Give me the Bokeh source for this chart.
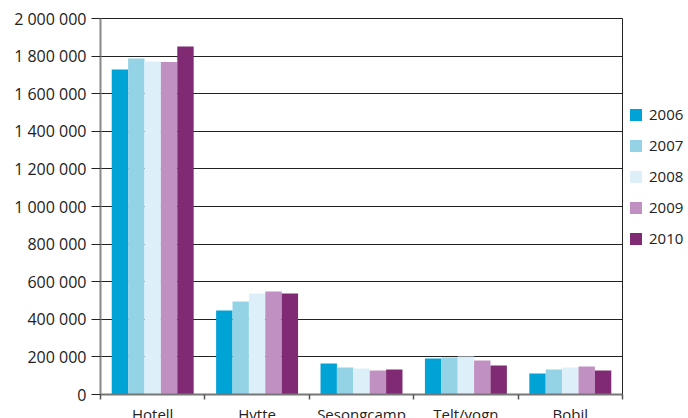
from bokeh.plotting import figure
from bokeh.models import ColumnDataSource, FixedTicker, Legend, LegendItem, CustomJSTickFormatter
from bokeh.embed import file_html
from bokeh.resources import INLINE

categories = ["Hotell", "Hytte", "Sesongcamp", "Telt/vogn", "Bobil"]
years = ["2006", "2007", "2008", "2009", "2010"]
v2006 = [1729000, 447000, 165000, 191000, 112000]
v2007 = [1787000, 495000, 144000, 197000, 133000]
v2008 = [1771000, 537000, 138000, 202000, 144000]
v2009 = [1768000, 548000, 128000, 181000, 149000]
v2010 = [1851000, 537000, 133000, 154000, 128000]
series = [v2006, v2007, v2008, v2009, v2010]
colors = ["#00A3D6", "#93D3E5", "#DDEFF9", "#C190C2", "#7F2A73"]
yticks = [0, 200000, 400000, 600000, 800000, 1000000, 1200000, 1400000, 1600000, 1800000, 2000000]

FONT = "Open Sans"
bar_w = 0.157

p = figure(frame_width=522, frame_height=376, x_range=(0, len(categories)), y_range=(0, 2000000),
           output_backend="svg", toolbar_location=None,
           min_border_left=100, min_border_top=18, min_border_bottom=16, min_border_right=0)

items = []
for j, (yr, vals, c) in enumerate(zip(years, series, colors)):
    off = (j - 2) * bar_w
    xs = [i + 0.5 + off for i in range(len(categories))]
    src = ColumnDataSource(dict(x=xs, top=vals))
    r = p.vbar(x="x", top="top", width=bar_w, bottom=0, source=src, fill_color=c, line_color=None)
    items.append(LegendItem(label=yr, renderers=[r]))

legend = Legend(items=items, location=(6, 146), orientation="vertical",
                glyph_width=15, glyph_height=15, label_height=15, spacing=11,
                label_standoff=6, padding=0, margin=8, border_line_color=None,
                background_fill_alpha=0, label_text_font=FONT, label_text_font_size="15px",
                label_text_color="#222222")
p.add_layout(legend, "right")

# x axis
p.xaxis.ticker = FixedTicker(ticks=[i + 0.5 for i in range(len(categories))],
                             minor_ticks=list(range(len(categories) + 1)))
p.xaxis.major_label_overrides = {i + 0.5: c for i, c in enumerate(categories)}
p.xaxis.major_tick_line_color = None
p.xaxis.minor_tick_out = 5
p.xaxis.minor_tick_in = 0
p.xaxis.minor_tick_line_color = "#555555"
p.xaxis.minor_tick_line_width = 1.5
p.xaxis.axis_line_color = "#777777"
p.xaxis.axis_line_width = 2
p.xaxis.major_label_standoff = 3
p.xaxis.major_label_text_font = FONT
p.xaxis.major_label_text_font_size = "15px"
p.xaxis.major_label_text_color = "#222222"

# y axis
p.yaxis.ticker = FixedTicker(ticks=yticks)
p.yaxis.formatter = CustomJSTickFormatter(code="return tick.toString().replace(/\\B(?=(\\d{3})+(?!\\d))/g, ' ');")
p.yaxis.major_tick_out = 9
p.yaxis.major_tick_in = 0
p.yaxis.major_tick_line_color = "#222222"
p.yaxis.minor_tick_line_color = None
p.yaxis.axis_line_color = "#888888"
p.yaxis.axis_line_width = 2
p.yaxis.major_label_standoff = 5
p.yaxis.major_label_text_font = FONT
p.yaxis.major_label_text_font_size = "16px"
p.yaxis.major_label_text_color = "#222222"

p.xgrid.grid_line_color = None
p.ygrid.ticker = FixedTicker(ticks=yticks)
p.ygrid.grid_line_color = "#222222"
p.ygrid.grid_line_width = 1.2
p.outline_line_color = "#222222"
p.outline_line_width = 1
p.background_fill_color = "white"
p.border_fill_color = "white"

open("out.html", "w").write(file_html(p, INLINE))
